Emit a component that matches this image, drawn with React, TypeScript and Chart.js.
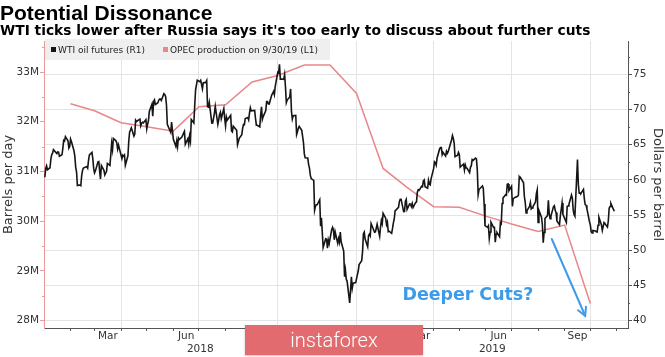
import React, { useEffect, useRef } from "react";
import { Chart, registerables } from "chart.js";

Chart.register(...registerables);

// ---------------- DATA ----------------
const chartTitle = "Potential Dissonance";
const chartSubtitle = "WTI ticks lower after Russia says it's too early to discuss about further cuts";
const seriesLabels = ["WTI oil futures (R1)", "OPEC production on 9/30/19 (L1)"];
const leftAxisTitle = "Barrels per day";
const rightAxisTitle = "Dollars per barrel";
const calloutText = "Deeper Cuts?";
const watermarkText = "instaforex";

const xStartDate = "2018-01-01";
const xEndDate = "2019-11-14";

const monthNames = ["Jan", "Feb", "Mar", "Apr", "May", "Jun", "Jul", "Aug", "Sep", "Oct", "Nov", "Dec"];
const labeledMonths = [2, 5, 8, 11];
const gridMonths = [0, 3, 6, 9];

const leftTicks = [28, 29, 30, 31, 32, 33];
const leftMinorTicks = [28.5, 29.5, 30.5, 31.5, 32.5, 33.5];
const leftRange = [27.849, 33.624];
const rightTicks = [40, 45, 50, 55, 60, 65, 70, 75];
const rightMinorTicks = [42.5, 47.5, 52.5, 57.5, 62.5, 67.5, 72.5, 77.5];
const rightRange = [38.96, 79.73];

// OPEC production (million barrels/day), monthly
const opecMonths = [
  "2018-02-01", "2018-03-01", "2018-04-01", "2018-05-01", "2018-06-01", "2018-07-01", "2018-08-01",
  "2018-09-01", "2018-10-01", "2018-11-01", "2018-12-01", "2019-01-01", "2019-02-01", "2019-03-01",
  "2019-04-01", "2019-05-01", "2019-06-01", "2019-07-01", "2019-08-01", "2019-09-01", "2019-10-01",
];
const opecValues = [
  32.36, 32.22, 31.98, 31.9, 31.81, 32.3, 32.34,
  32.8, 32.93, 33.14, 33.14, 32.57, 31.06, 30.68,
  30.29, 30.28, 30.1, 29.94, 29.79, 29.92, 28.34,
];

// WTI oil futures closes ($/bbl)
const wtiCloses: [string, number][] = [
  ["2018-01-02", 60.37], ["2018-01-03", 61.63], ["2018-01-04", 62.01], ["2018-01-05", 61.44], ["2018-01-08", 61.73],
  ["2018-01-09", 62.96], ["2018-01-10", 63.57], ["2018-01-11", 63.8], ["2018-01-12", 64.3], ["2018-01-16", 63.73],
  ["2018-01-17", 63.97], ["2018-01-18", 63.95], ["2018-01-19", 63.37], ["2018-01-22", 63.57], ["2018-01-23", 64.47],
  ["2018-01-24", 65.61], ["2018-01-25", 65.51], ["2018-01-26", 66.14], ["2018-01-29", 65.56], ["2018-01-30", 64.5],
  ["2018-01-31", 64.73],
  ["2018-02-01", 65.8], ["2018-02-02", 65.45], ["2018-02-05", 64.15], ["2018-02-06", 63.39], ["2018-02-07", 61.79],
  ["2018-02-08", 61.15], ["2018-02-09", 59.2], ["2018-02-12", 59.29], ["2018-02-13", 59.19], ["2018-02-14", 60.6],
  ["2018-02-15", 61.34], ["2018-02-16", 61.68], ["2018-02-20", 61.9], ["2018-02-21", 61.68], ["2018-02-22", 62.77],
  ["2018-02-23", 63.55], ["2018-02-26", 63.91], ["2018-02-27", 63.01], ["2018-02-28", 61.64],
  ["2018-03-01", 60.99], ["2018-03-02", 61.25], ["2018-03-05", 62.57], ["2018-03-06", 62.6], ["2018-03-07", 61.15],
  ["2018-03-08", 60.12], ["2018-03-09", 62.04], ["2018-03-12", 61.36], ["2018-03-13", 60.71], ["2018-03-14", 60.96],
  ["2018-03-15", 61.19], ["2018-03-16", 62.34], ["2018-03-19", 62.06], ["2018-03-20", 63.54], ["2018-03-21", 65.17],
  ["2018-03-22", 64.3], ["2018-03-23", 65.88], ["2018-03-26", 65.55], ["2018-03-27", 65.25], ["2018-03-28", 64.38],
  ["2018-03-29", 64.94],
  ["2018-04-02", 63.01], ["2018-04-03", 63.51], ["2018-04-04", 63.37], ["2018-04-05", 63.54], ["2018-04-06", 62.06],
  ["2018-04-09", 63.42], ["2018-04-10", 65.51], ["2018-04-11", 66.82], ["2018-04-12", 67.07], ["2018-04-13", 67.39],
  ["2018-04-16", 66.22], ["2018-04-17", 66.52], ["2018-04-18", 68.47], ["2018-04-19", 68.29], ["2018-04-20", 68.38],
  ["2018-04-23", 68.64], ["2018-04-24", 67.7], ["2018-04-25", 68.05], ["2018-04-26", 68.19], ["2018-04-27", 68.1],
  ["2018-04-30", 68.57],
  ["2018-05-01", 67.25], ["2018-05-02", 67.93], ["2018-05-03", 68.43], ["2018-05-04", 69.72], ["2018-05-07", 70.73],
  ["2018-05-08", 69.06], ["2018-05-09", 71.14], ["2018-05-10", 71.36], ["2018-05-11", 70.7], ["2018-05-14", 70.96],
  ["2018-05-15", 71.31], ["2018-05-16", 71.49], ["2018-05-17", 71.49], ["2018-05-18", 71.28], ["2018-05-21", 72.24],
  ["2018-05-22", 72.13], ["2018-05-23", 71.84], ["2018-05-24", 70.71], ["2018-05-25", 67.88], ["2018-05-29", 66.73],
  ["2018-05-30", 68.21], ["2018-05-31", 67.04],
  ["2018-06-01", 65.81], ["2018-06-04", 64.75], ["2018-06-05", 65.52], ["2018-06-06", 64.73], ["2018-06-07", 65.95],
  ["2018-06-08", 65.74], ["2018-06-11", 66.1], ["2018-06-12", 66.36], ["2018-06-13", 66.64], ["2018-06-14", 66.89],
  ["2018-06-15", 65.06], ["2018-06-18", 65.85], ["2018-06-19", 65.07], ["2018-06-20", 66.22], ["2018-06-21", 65.54],
  ["2018-06-22", 68.58], ["2018-06-25", 68.08], ["2018-06-26", 70.53], ["2018-06-27", 72.76], ["2018-06-28", 73.45],
  ["2018-06-29", 74.15],
  ["2018-07-02", 73.94], ["2018-07-03", 74.14], ["2018-07-05", 72.94], ["2018-07-06", 73.8], ["2018-07-09", 73.85],
  ["2018-07-10", 74.11], ["2018-07-11", 70.38], ["2018-07-12", 70.33], ["2018-07-13", 71.01], ["2018-07-16", 68.06],
  ["2018-07-17", 68.08], ["2018-07-18", 68.76], ["2018-07-19", 69.46], ["2018-07-20", 70.46], ["2018-07-23", 67.89],
  ["2018-07-24", 68.52], ["2018-07-25", 69.3], ["2018-07-26", 69.61], ["2018-07-27", 68.69], ["2018-07-30", 70.13],
  ["2018-07-31", 68.76],
  ["2018-08-01", 67.66], ["2018-08-02", 68.96], ["2018-08-03", 68.49], ["2018-08-06", 69.01], ["2018-08-07", 69.17],
  ["2018-08-08", 66.94], ["2018-08-09", 66.81], ["2018-08-10", 67.63], ["2018-08-13", 67.2], ["2018-08-14", 67.04],
  ["2018-08-15", 65.01], ["2018-08-16", 65.46], ["2018-08-17", 65.91], ["2018-08-20", 66.43], ["2018-08-21", 67.35],
  ["2018-08-22", 67.86], ["2018-08-23", 67.83], ["2018-08-24", 68.72], ["2018-08-27", 68.87], ["2018-08-28", 68.53],
  ["2018-08-29", 69.51], ["2018-08-30", 70.25], ["2018-08-31", 69.8],
  ["2018-09-04", 69.87], ["2018-09-05", 68.72], ["2018-09-06", 67.77], ["2018-09-07", 67.75], ["2018-09-10", 67.54],
  ["2018-09-11", 69.25], ["2018-09-12", 70.37], ["2018-09-13", 68.59], ["2018-09-14", 68.99], ["2018-09-17", 69.85],
  ["2018-09-18", 71.12], ["2018-09-19", 71.12], ["2018-09-20", 70.8], ["2018-09-21", 70.78], ["2018-09-24", 72.08],
  ["2018-09-25", 72.28], ["2018-09-26", 72.57], ["2018-09-27", 72.12], ["2018-09-28", 73.25],
  ["2018-10-01", 75.3], ["2018-10-02", 75.23], ["2018-10-03", 76.41], ["2018-10-04", 74.33], ["2018-10-05", 74.34],
  ["2018-10-08", 74.29], ["2018-10-09", 74.96], ["2018-10-10", 73.17], ["2018-10-11", 70.97], ["2018-10-12", 71.34],
  ["2018-10-15", 71.78], ["2018-10-16", 72.92], ["2018-10-17", 69.75], ["2018-10-18", 68.65], ["2018-10-19", 69.12],
  ["2018-10-22", 69.17], ["2018-10-23", 66.43], ["2018-10-24", 66.82], ["2018-10-25", 67.33], ["2018-10-26", 67.59],
  ["2018-10-29", 67.04], ["2018-10-30", 66.18], ["2018-10-31", 65.31],
  ["2018-11-01", 63.69], ["2018-11-02", 63.14], ["2018-11-05", 63.1], ["2018-11-06", 62.21], ["2018-11-07", 61.67],
  ["2018-11-08", 60.67], ["2018-11-09", 60.19], ["2018-11-12", 59.93], ["2018-11-13", 55.69], ["2018-11-14", 56.25],
  ["2018-11-15", 56.46], ["2018-11-16", 56.46], ["2018-11-19", 57.2], ["2018-11-20", 53.43], ["2018-11-21", 54.63],
  ["2018-11-23", 50.42], ["2018-11-26", 51.63], ["2018-11-27", 51.56], ["2018-11-28", 50.29], ["2018-11-29", 51.45],
  ["2018-11-30", 50.93],
  ["2018-12-03", 52.95], ["2018-12-04", 53.25], ["2018-12-05", 52.89], ["2018-12-06", 51.49], ["2018-12-07", 52.61],
  ["2018-12-10", 51.0], ["2018-12-11", 51.65], ["2018-12-12", 51.15], ["2018-12-13", 52.58], ["2018-12-14", 51.2],
  ["2018-12-17", 49.88], ["2018-12-18", 46.24], ["2018-12-19", 47.2], ["2018-12-20", 45.88], ["2018-12-21", 45.59],
  ["2018-12-24", 42.53], ["2018-12-26", 46.22], ["2018-12-27", 44.61], ["2018-12-28", 45.33], ["2018-12-31", 45.41],
  ["2019-01-02", 46.54], ["2019-01-03", 47.09], ["2019-01-04", 47.96], ["2019-01-07", 48.52], ["2019-01-08", 49.78],
  ["2019-01-09", 52.36], ["2019-01-10", 52.59], ["2019-01-11", 51.59], ["2019-01-14", 50.51], ["2019-01-15", 52.11],
  ["2019-01-16", 52.31], ["2019-01-17", 52.07], ["2019-01-18", 53.8], ["2019-01-22", 52.57], ["2019-01-23", 52.62],
  ["2019-01-24", 53.13], ["2019-01-25", 53.69], ["2019-01-28", 51.99], ["2019-01-29", 53.31], ["2019-01-30", 54.23],
  ["2019-01-31", 53.79],
  ["2019-02-01", 55.26], ["2019-02-04", 54.56], ["2019-02-05", 53.66], ["2019-02-06", 54.01], ["2019-02-07", 52.64],
  ["2019-02-08", 52.72], ["2019-02-11", 52.41], ["2019-02-12", 53.1], ["2019-02-13", 53.9], ["2019-02-14", 54.41],
  ["2019-02-15", 55.59], ["2019-02-19", 56.09], ["2019-02-20", 56.92], ["2019-02-21", 57.26], ["2019-02-22", 57.26],
  ["2019-02-25", 55.48], ["2019-02-26", 55.5], ["2019-02-27", 56.94], ["2019-02-28", 57.22],
  ["2019-03-01", 55.8], ["2019-03-04", 56.59], ["2019-03-05", 56.56], ["2019-03-06", 56.22], ["2019-03-07", 56.66],
  ["2019-03-08", 56.07], ["2019-03-11", 56.79], ["2019-03-12", 56.87], ["2019-03-13", 58.26], ["2019-03-14", 58.61],
  ["2019-03-15", 58.52], ["2019-03-18", 59.09], ["2019-03-19", 59.03], ["2019-03-20", 59.83], ["2019-03-21", 59.98],
  ["2019-03-22", 59.04], ["2019-03-25", 58.82], ["2019-03-26", 59.94], ["2019-03-27", 59.41], ["2019-03-28", 59.3],
  ["2019-03-29", 60.14],
  ["2019-04-01", 61.59], ["2019-04-02", 62.58], ["2019-04-03", 62.46], ["2019-04-04", 62.1], ["2019-04-05", 63.08],
  ["2019-04-08", 64.4], ["2019-04-09", 64.61], ["2019-04-10", 64.61], ["2019-04-11", 63.58], ["2019-04-12", 63.89],
  ["2019-04-15", 63.4], ["2019-04-16", 64.05], ["2019-04-17", 63.76], ["2019-04-18", 64.0], ["2019-04-22", 65.7],
  ["2019-04-23", 66.3], ["2019-04-24", 65.89], ["2019-04-25", 65.21], ["2019-04-26", 63.3], ["2019-04-29", 63.5],
  ["2019-04-30", 63.91],
  ["2019-05-01", 63.6], ["2019-05-02", 61.81], ["2019-05-03", 61.94], ["2019-05-06", 62.25], ["2019-05-07", 61.4],
  ["2019-05-08", 62.12], ["2019-05-09", 61.7], ["2019-05-10", 61.66], ["2019-05-13", 61.04], ["2019-05-14", 61.78],
  ["2019-05-15", 62.02], ["2019-05-16", 62.87], ["2019-05-17", 62.76], ["2019-05-20", 63.1], ["2019-05-21", 62.99],
  ["2019-05-22", 61.42], ["2019-05-23", 57.91], ["2019-05-24", 58.63], ["2019-05-28", 59.14], ["2019-05-29", 58.81],
  ["2019-05-30", 56.59], ["2019-05-31", 53.5],
  ["2019-06-03", 53.25], ["2019-06-04", 53.48], ["2019-06-05", 51.68], ["2019-06-06", 52.59], ["2019-06-07", 53.99],
  ["2019-06-10", 53.26], ["2019-06-11", 53.27], ["2019-06-12", 51.14], ["2019-06-13", 52.28], ["2019-06-14", 52.51],
  ["2019-06-17", 51.93], ["2019-06-18", 53.9], ["2019-06-19", 53.76], ["2019-06-20", 56.65], ["2019-06-21", 57.43],
  ["2019-06-24", 57.9], ["2019-06-25", 57.83], ["2019-06-26", 59.38], ["2019-06-27", 59.43], ["2019-06-28", 58.47],
  ["2019-07-01", 59.09], ["2019-07-02", 56.25], ["2019-07-03", 57.34], ["2019-07-05", 57.51], ["2019-07-08", 57.66],
  ["2019-07-09", 57.83], ["2019-07-10", 60.43], ["2019-07-11", 60.2], ["2019-07-12", 60.21], ["2019-07-15", 59.58],
  ["2019-07-16", 57.62], ["2019-07-17", 56.78], ["2019-07-18", 55.3], ["2019-07-19", 55.63], ["2019-07-22", 56.22],
  ["2019-07-23", 56.77], ["2019-07-24", 55.88], ["2019-07-25", 56.02], ["2019-07-26", 56.2], ["2019-07-29", 56.87],
  ["2019-07-30", 58.05], ["2019-07-31", 58.58],
  ["2019-08-01", 53.95], ["2019-08-02", 55.66], ["2019-08-05", 54.69], ["2019-08-06", 53.63], ["2019-08-07", 51.09],
  ["2019-08-08", 52.54], ["2019-08-09", 54.5], ["2019-08-12", 54.93], ["2019-08-13", 57.1], ["2019-08-14", 55.23],
  ["2019-08-15", 54.47], ["2019-08-16", 54.87], ["2019-08-19", 56.21], ["2019-08-20", 56.34], ["2019-08-21", 55.68],
  ["2019-08-22", 55.35], ["2019-08-23", 54.17], ["2019-08-26", 53.64], ["2019-08-27", 54.93], ["2019-08-28", 55.78],
  ["2019-08-29", 56.71], ["2019-08-30", 55.1],
  ["2019-09-03", 53.94], ["2019-09-04", 56.26], ["2019-09-05", 56.3], ["2019-09-06", 56.52], ["2019-09-09", 57.85],
  ["2019-09-10", 57.4], ["2019-09-11", 55.75], ["2019-09-12", 55.09], ["2019-09-13", 54.85], ["2019-09-16", 62.9],
  ["2019-09-17", 59.34], ["2019-09-18", 58.11], ["2019-09-19", 58.13], ["2019-09-20", 58.09], ["2019-09-23", 58.64],
  ["2019-09-24", 57.29], ["2019-09-25", 56.49], ["2019-09-26", 56.41], ["2019-09-27", 55.91], ["2019-09-30", 54.07],
  ["2019-10-01", 53.62], ["2019-10-02", 52.64], ["2019-10-03", 52.45], ["2019-10-04", 52.81], ["2019-10-07", 52.75],
  ["2019-10-08", 52.63], ["2019-10-09", 52.59], ["2019-10-10", 53.55], ["2019-10-11", 54.7], ["2019-10-14", 53.59],
  ["2019-10-15", 52.81], ["2019-10-16", 53.36], ["2019-10-17", 53.93], ["2019-10-18", 53.78], ["2019-10-21", 53.31],
  ["2019-10-22", 54.16], ["2019-10-23", 55.97], ["2019-10-24", 56.23], ["2019-10-25", 56.66], ["2019-10-28", 55.81],
  ["2019-10-29", 55.54],
];

// annotation (date, $/bbl on right axis)
const arrowFrom: [string, number] = ["2019-08-17", 51.6];
const arrowTo: [string, number] = ["2019-09-25", 40.7];
const calloutAt: [string, number] = ["2019-05-11", 43.55];

// ---------------- STYLE ----------------
const WTI_COLOR = "#151515";
const OPEC_COLOR = "#e8868a";
const LEFT_AXIS_COLOR = "#e99a9c";
const AXIS_COLOR = "#555555";
const GRID_COLOR = "#e4e4e4";
const TICK_TEXT = "#333333";
const CALLOUT_COLOR = "#3d9be9";
const FONT = '"DejaVu Sans", Verdana, sans-serif';

const DAY_MS = 86400000;
const BASE = Date.UTC(2018, 0, 1);
const toDay = (iso: string) => (Date.parse(iso + "T00:00:00Z") - BASE) / DAY_MS;
const utcDay = (y: number, m: number, d: number) => (Date.UTC(y, m, d) - BASE) / DAY_MS;

const xMin = toDay(xStartDate);
const xMax = toDay(xEndDate);

type XTick = { value: number; kind: "start" | "mid"; label?: string; grid?: boolean };
function buildXTicks(): XTick[] {
  const out: XTick[] = [];
  const y0 = new Date(BASE + xMin * DAY_MS).getUTCFullYear();
  const y1 = new Date(BASE + xMax * DAY_MS).getUTCFullYear();
  for (let y = y0; y <= y1; y++) {
    for (let m = 0; m < 12; m++) {
      const s = utcDay(y, m, 1);
      const e = utcDay(y, m + 1, 1);
      if (s > xMin && s < xMax) out.push({ value: s, kind: "start", grid: gridMonths.includes(m) });
      const mid = (s + e) / 2;
      if (labeledMonths.includes(m) && mid > xMin && mid < xMax)
        out.push({ value: mid, kind: "mid", label: monthNames[m] });
    }
  }
  return out.sort((a, b) => a.value - b.value);
}
const xTicks = buildXTicks();

function buildYearTicks() {
  const out: { value: number; label: string }[] = [];
  const y0 = new Date(BASE + xMin * DAY_MS).getUTCFullYear();
  const y1 = new Date(BASE + xMax * DAY_MS).getUTCFullYear();
  for (let y = y0; y <= y1; y++) {
    const s = Math.max(utcDay(y, 0, 1), xMin);
    const e = Math.min(utcDay(y + 1, 0, 1), xMax);
    out.push({ value: (s + e) / 2, label: String(y) });
  }
  return out;
}
const yearTicks = buildYearTicks();

const findTick = (v: number) => xTicks.find((t) => Math.abs(t.value - v) < 1e-6);

const overlayPlugin = {
  id: "overlay",
  afterDraw(chart: any) {
    const { ctx, chartArea } = chart;
    const xs = chart.scales.x;
    const yL = chart.scales.yL;
    const yR = chart.scales.yR;
    ctx.save();
    // minor ticks
    ctx.lineWidth = 1;
    ctx.strokeStyle = LEFT_AXIS_COLOR;
    leftMinorTicks.forEach((v) => {
      const p = Math.round(yL.getPixelForValue(v)) + 0.5;
      ctx.beginPath();
      ctx.moveTo(yL.right - 2, p);
      ctx.lineTo(yL.right, p);
      ctx.stroke();
    });
    ctx.strokeStyle = AXIS_COLOR;
    rightMinorTicks.forEach((v) => {
      const p = Math.round(yR.getPixelForValue(v)) + 0.5;
      ctx.beginPath();
      ctx.moveTo(yR.left, p);
      ctx.lineTo(yR.left + 2, p);
      ctx.stroke();
    });
    // axis titles
    const midY = (chartArea.top + chartArea.bottom) / 2;
    ctx.fillStyle = TICK_TEXT;
    ctx.font = `13px ${FONT}`;
    ctx.textAlign = "center";
    ctx.textBaseline = "alphabetic";
    ctx.save();
    ctx.translate(12.3, midY);
    ctx.rotate(-Math.PI / 2);
    ctx.fillText(leftAxisTitle, 0, 0);
    ctx.restore();
    ctx.save();
    ctx.translate(chart.width - 11.5, midY);
    ctx.rotate(Math.PI / 2);
    ctx.fillText(rightAxisTitle, 0, 0);
    ctx.restore();

    // arrow annotation
    const x1 = xs.getPixelForValue(toDay(arrowFrom[0]));
    const y1 = yR.getPixelForValue(arrowFrom[1]);
    const x2 = xs.getPixelForValue(toDay(arrowTo[0]));
    const y2 = yR.getPixelForValue(arrowTo[1]);
    ctx.strokeStyle = CALLOUT_COLOR;
    ctx.lineWidth = 2;
    ctx.lineCap = "round";
    ctx.beginPath();
    ctx.moveTo(x1, y1);
    ctx.lineTo(x2, y2);
    ctx.stroke();
    const ang = Math.atan2(y2 - y1, x2 - x1);
    const hl = 9;
    ctx.beginPath();
    ctx.moveTo(x2 + hl * Math.cos(ang + Math.PI - 0.5), y2 + hl * Math.sin(ang + Math.PI - 0.5));
    ctx.lineTo(x2, y2);
    ctx.lineTo(x2 + hl * Math.cos(ang + Math.PI + 0.5), y2 + hl * Math.sin(ang + Math.PI + 0.5));
    ctx.stroke();
    // callout text
    ctx.fillStyle = CALLOUT_COLOR;
    ctx.font = `bold 17.4px ${FONT}`;
    ctx.textAlign = "center";
    ctx.textBaseline = "middle";
    ctx.fillText(calloutText, xs.getPixelForValue(toDay(calloutAt[0])), yR.getPixelForValue(calloutAt[1]));
    ctx.restore();
  },
};

export default function App() {
  const canvasRef = useRef<HTMLCanvasElement | null>(null);

  useEffect(() => {
    document.body.style.margin = "0";
    const canvas = canvasRef.current;
    if (!canvas) return;
    Chart.defaults.font.family = FONT;

    const wtiData = wtiCloses.map(([d, v]) => ({ x: toDay(d), y: v }));
    const opecData = opecMonths.map((d, i) => ({ x: toDay(d), y: opecValues[i] }));

    const chart = new Chart(canvas, {
      type: "line",
      data: {
        datasets: [
          {
            label: seriesLabels[0],
            data: wtiData,
            yAxisID: "yR",
            xAxisID: "x",
            borderColor: WTI_COLOR,
            borderWidth: 1.6,
            pointRadius: 0,
            tension: 0,
            fill: false,
          },
          {
            label: seriesLabels[1],
            data: opecData,
            yAxisID: "yL",
            xAxisID: "x",
            borderColor: OPEC_COLOR,
            borderWidth: 1.5,
            pointRadius: 0,
            tension: 0,
            fill: false,
          },
        ],
      },
      options: {
        animation: false,
        responsive: false,
        maintainAspectRatio: false,
        devicePixelRatio: 1,
        layout: { padding: { top: 41, left: 0, right: 0, bottom: 0 } },
        plugins: { legend: { display: false }, tooltip: { enabled: false }, title: { display: false } },
        scales: {
          x: {
            type: "linear",
            position: "bottom",
            min: xMin,
            max: xMax,
            afterBuildTicks: (s: any) => {
              s.ticks = xTicks.map((t) => ({ value: t.value }));
            },
            afterFit: (s: any) => {
              s.height = 14;
            },
            border: { display: true, color: AXIS_COLOR, width: 1 },
            grid: {
              drawOnChartArea: true,
              drawTicks: true,
              tickLength: 3,
              lineWidth: 1,
              color: (c: any) => {
                const t = c.tick ? findTick(c.tick.value) : undefined;
                return t && t.kind === "start" && t.grid ? GRID_COLOR : "rgba(0,0,0,0)";
              },
              tickColor: (c: any) => {
                const t = c.tick ? findTick(c.tick.value) : undefined;
                return t && t.kind === "start" ? AXIS_COLOR : "rgba(0,0,0,0)";
              },
            },
            ticks: {
              autoSkip: false,
              maxRotation: 0,
              minRotation: 0,
              padding: 0,
              color: TICK_TEXT,
              font: { size: 10.5, lineHeight: 1 },
              callback: (v: any) => {
                const t = findTick(Number(v));
                return t && t.label ? t.label : "";
              },
            },
          },
          xYear: {
            type: "linear",
            position: "bottom",
            min: xMin,
            max: xMax,
            afterBuildTicks: (s: any) => {
              s.ticks = yearTicks.map((t) => ({ value: t.value }));
            },
            afterFit: (s: any) => {
              s.height = 15;
            },
            border: { display: false },
            grid: { display: false, drawTicks: false },
            ticks: {
              autoSkip: false,
              maxRotation: 0,
              minRotation: 0,
              padding: 2,
              color: TICK_TEXT,
              font: { size: 10.5, lineHeight: 1 },
              callback: (v: any) => {
                const t = yearTicks.find((y) => Math.abs(y.value - Number(v)) < 1e-6);
                return t ? t.label : "";
              },
            },
          },
          yL: {
            type: "linear",
            position: "left",
            min: leftRange[0],
            max: leftRange[1],
            afterBuildTicks: (s: any) => {
              s.ticks = leftTicks.map((v) => ({ value: v }));
            },
            afterFit: (s: any) => {
              s.width = 44;
            },
            border: { display: true, color: LEFT_AXIS_COLOR, width: 1 },
            grid: { drawOnChartArea: false, drawTicks: true, tickLength: 4, tickColor: LEFT_AXIS_COLOR },
            ticks: {
              padding: 1,
              color: TICK_TEXT,
              font: { size: 10.5 },
              callback: (v: any) => `${v}M`,
            },
          },
          yR: {
            type: "linear",
            position: "right",
            min: rightRange[0],
            max: rightRange[1],
            afterBuildTicks: (s: any) => {
              s.ticks = rightTicks.map((v) => ({ value: v }));
            },
            afterFit: (s: any) => {
              s.width = 37;
            },
            border: { display: true, color: AXIS_COLOR, width: 1 },
            grid: { drawOnChartArea: true, color: GRID_COLOR, drawTicks: true, tickLength: 4, tickColor: AXIS_COLOR },
            ticks: {
              padding: 1,
              color: TICK_TEXT,
              font: { size: 10.5 },
              callback: (v: any) => `${v}`,
            },
          },
        },
      },
      plugins: [overlayPlugin],
    } as any);

    return () => chart.destroy();
  }, []);

  const legendColors = [WTI_COLOR, OPEC_COLOR];

  return (
    <div style={{ position: "relative", width: 665, height: 357, overflow: "hidden", background: "#fff" }}>
      <canvas ref={canvasRef} width={665} height={357} style={{ position: "absolute", left: 0, top: 0, width: 665, height: 357 }} />
      <div
        style={{
          position: "absolute",
          left: 0,
          top: 2,
          fontFamily: '"Liberation Sans", Arial, sans-serif',
          fontWeight: 700,
          fontSize: 21,
          lineHeight: "21px",
          color: "#000",
          whiteSpace: "nowrap",
        }}
      >
        {chartTitle}
      </div>
      <div
        style={{
          position: "absolute",
          left: 0,
          top: 23,
          fontFamily: FONT,
          fontWeight: 700,
          fontSize: 13.8,
          lineHeight: "14px",
          color: "#000",
          whiteSpace: "nowrap",
        }}
      >
        {chartSubtitle}
      </div>
      <div
        style={{
          position: "absolute",
          left: 45,
          top: 39,
          width: 285,
          height: 21,
          background: "rgba(238,238,238,0.92)",
          display: "flex",
          alignItems: "center",
          paddingLeft: 6,
          boxSizing: "border-box",
          fontFamily: FONT,
          fontSize: 9,
          color: "#222",
          whiteSpace: "nowrap",
        }}
      >
        {seriesLabels.map((lab, i) => (
          <span key={lab} style={{ display: "inline-flex", alignItems: "center", marginRight: 18 }}>
            <span style={{ display: "inline-block", width: 5, height: 5, background: legendColors[i], marginRight: 2 }} />
            <span>{lab}</span>
          </span>
        ))}
      </div>
      <div
        style={{
          position: "absolute",
          left: 245,
          top: 325,
          width: 178,
          height: 30,
          background: "#e26b6f",
          color: "#fff",
          fontFamily: "Roboto, sans-serif",
          fontWeight: 300,
          fontSize: 20,
          lineHeight: "30px",
          textAlign: "center",
          boxShadow: "0 1px 2px rgba(0,0,0,0.25)",
        }}
      >
        {watermarkText}
      </div>
    </div>
  );
}
